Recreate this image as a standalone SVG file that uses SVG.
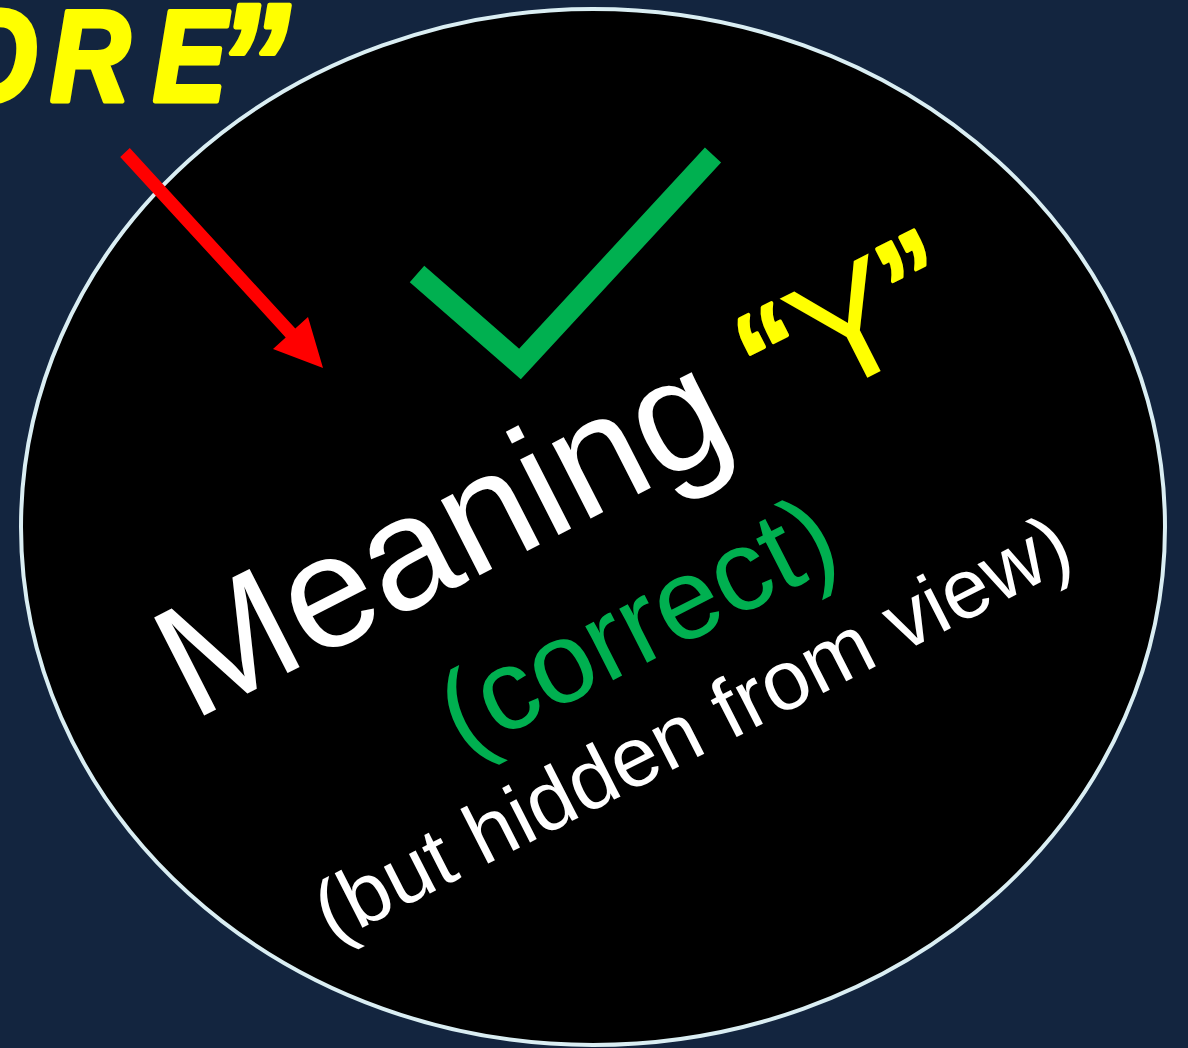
<svg xmlns="http://www.w3.org/2000/svg" width="1188" height="1048" viewBox="0 0 1188 1048">
<style>
.t{font-family:"Liberation Sans",Arial,sans-serif;text-anchor:middle}
.w{fill:#ffffff}
.g{fill:#00b050}
.y{fill:#ffff00}
.q{stroke:#ffff00;stroke-width:4;stroke-linejoin:round}
.ttl{font-family:"Liberation Sans",Arial,sans-serif;font-weight:bold;font-style:italic;fill:#ffff00;stroke:#ffff00;stroke-width:5;stroke-linejoin:round}
</style>
<rect width="1188" height="1048" fill="#13253f"/>
<g id="title">
<text class="ttl" transform="scale(0.85,1)" y="101" font-size="130"><tspan x="-58">O</tspan><tspan x="59">R</tspan><tspan x="180">E</tspan><tspan x="256" dy="22" font-size="170">”</tspan></text>
</g>
<g id="circle">
<ellipse cx="593" cy="527" rx="572" ry="518" fill="#000000" stroke="#daeef3" stroke-width="4"/>
</g>
<g id="connectors">
<polygon points="129.8,148.1 295.3,328.6 308,317 323,368 273,349 285.7,337.4 120.2,156.9" fill="#ff0000"/>
</g>
<g id="check">
<polyline points="417,274 520,364 713,155" fill="none" stroke="#00b050" stroke-width="22" stroke-linejoin="miter"/>
</g>
<g id="label">
<text class="t" transform="translate(586.3,520.8) rotate(-27)">
<tspan x="-4" y="0" font-size="160" class="w">Meaning <tspan class="y"><tspan class="q">“</tspan>Y<tspan class="q">”</tspan></tspan></tspan>
<tspan x="0" y="154" font-size="115" class="g">(correct)</tspan>
<tspan x="0" y="261" font-size="84.5" class="w">(but hidden from view)</tspan>
</text>
</g>
</svg>
